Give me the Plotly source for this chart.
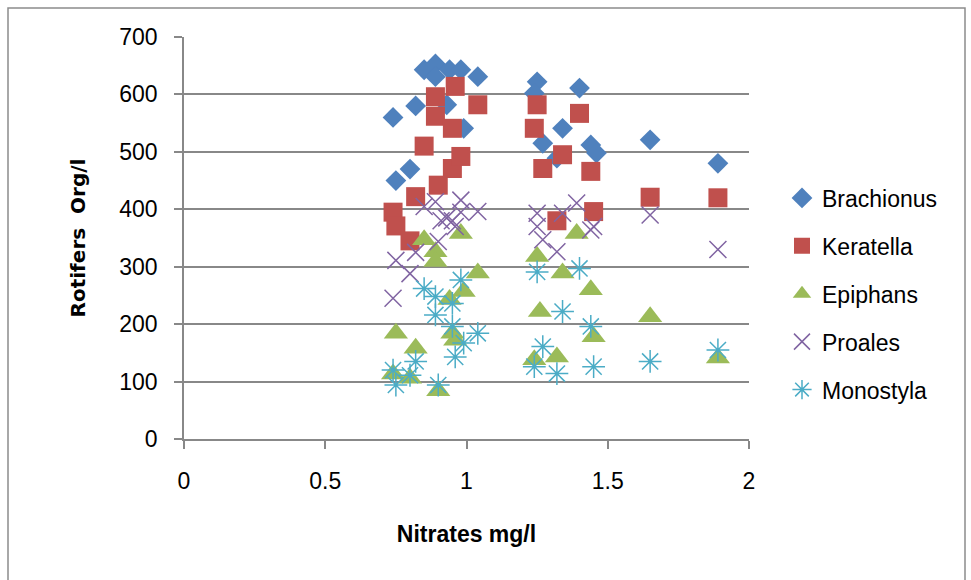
import plotly.graph_objects as go

# ---- data ----
brach_x = [0.74, 0.75, 0.80, 0.82, 0.85, 0.89, 0.89, 0.93, 0.94, 0.98, 0.99, 1.04, 1.25, 1.24, 1.27, 1.32, 1.34, 1.40, 1.44, 1.46, 1.65, 1.89]
brach_y = [560, 450, 470, 580, 643, 653, 631, 582, 643, 643, 541, 631, 622, 602, 515, 489, 541, 611, 512, 498, 521, 480]

kerat_x = [0.74, 0.75, 0.80, 0.82, 0.85, 0.89, 0.89, 0.90, 0.95, 0.96, 0.95, 0.98, 1.04, 1.24, 1.25, 1.27, 1.32, 1.34, 1.40, 1.44, 1.45, 1.65, 1.89]
kerat_y = [395, 371, 345, 422, 510, 596, 562, 442, 541, 614, 471, 492, 582, 541, 582, 471, 380, 495, 567, 466, 396, 421, 420]

epiph_x = [0.75, 0.74, 0.80, 0.82, 0.85, 0.89, 0.89, 0.90, 0.94, 0.95, 0.96, 0.98, 0.99, 1.04, 1.24, 1.25, 1.26, 1.32, 1.34, 1.39, 1.44, 1.45, 1.65, 1.89]
epiph_y = [184, 113, 106, 158, 347, 326, 309, 84, 243, 184, 172, 358, 257, 289, 138, 318, 222, 143, 289, 358, 260, 178, 213, 141]

proal_x = [0.74, 0.75, 0.80, 0.82, 0.85, 0.89, 0.90, 0.91, 0.93, 0.95, 0.96, 0.98, 0.98, 1.04, 1.25, 1.25, 1.27, 1.32, 1.34, 1.39, 1.44, 1.45, 1.65, 1.89]
proal_y = [245, 311, 288, 325, 405, 413, 344, 380, 385, 380, 370, 416, 395, 396, 393, 370, 347, 326, 393, 411, 364, 370, 390, 330]

monos_x = [0.74, 0.75, 0.80, 0.82, 0.85, 0.89, 0.89, 0.90, 0.95, 0.95, 0.96, 0.98, 0.99, 1.04, 1.24, 1.25, 1.27, 1.32, 1.34, 1.40, 1.44, 1.45, 1.65, 1.89]
monos_y = [120, 94, 111, 135, 262, 248, 216, 94, 236, 196, 143, 277, 167, 184, 126, 291, 161, 114, 222, 297, 196, 126, 135, 155]

x_ticks = [0, 0.5, 1, 1.5, 2]
x_tick_labels = ["0", "0.5", "1", "1.5", "2"]
y_ticks = [0, 100, 200, 300, 400, 500, 600, 700]

series = [
    ("Brachionus", brach_x, brach_y, "diamond", "#4F81BD", 16, 0),
    ("Keratella", kerat_x, kerat_y, "square", "#C0504D", 19, 0),
    ("Epiphans", epiph_x, epiph_y, "triangle-up", "#9BBB59", 21, 0),
    ("Proales", proal_x, proal_y, "x-thin-open", "#8064A2", 17, 1.5),
    ("Monostyla", monos_x, monos_y, "asterisk-open", "#4BACC6", 19, 1.5),
]

FONT = "Liberation Sans"
fig = go.Figure()
for name, xs, ys, sym, col, sz, lw in series:
    fig.add_trace(go.Scatter(
        x=xs, y=ys, mode="markers", name=name, legendgroup=name,
        marker=dict(symbol=sym, color=col, size=sz,
                    line=dict(color=col, width=lw)),
    ))

# plot area pixel geometry
L, R, T, B = 184, 749, 37, 439
W, H = 971, 580
def px(xp):
    return (xp - L) / (R - L)
def py(yp):
    return (B - yp) / (B - T)

fig.update_layout(
    width=W, height=H,
    margin=dict(l=L, r=W - R, t=T, b=H - B),
    paper_bgcolor="white", plot_bgcolor="white",
    font=dict(family=FONT, size=23, color="black"),
    showlegend=True,
    legend=dict(x=px(782), y=py(294), xanchor="left", yanchor="middle",
                traceorder="grouped", tracegroupgap=15,
                font=dict(family=FONT, size=23, color="black"),
                bgcolor="rgba(0,0,0,0)"),
    xaxis=dict(range=[0, 2], tickvals=x_ticks, ticktext=x_tick_labels,
               showgrid=False, zeroline=False, showline=True,
               linecolor="#888888", linewidth=1.5,
               ticks="outside", ticklen=8, tickcolor="#888888", tickwidth=1.5,
               ticklabelstandoff=13,
               title=dict(text="<b>Nitrates mg/l</b>", standoff=33,
                          font=dict(family=FONT, size=23, color="black"))),
    yaxis=dict(range=[0, 700], tickvals=y_ticks,
               showgrid=True, gridcolor="#888888", gridwidth=1.5,
               zeroline=False, showline=True,
               linecolor="#888888", linewidth=1.5,
               ticks="outside", ticklen=8, tickcolor="#888888", tickwidth=1.5,
               ticklabelstandoff=12,
               title=dict(text="<b>Rotifers  Org/l</b>", standoff=28,
                          font=dict(family="DejaVu Sans", size=20, color="black"))),
    shapes=[dict(type="rect", xref="paper", yref="paper",
                 x0=px(8), x1=px(965), y0=py(600), y1=py(8),
                 line=dict(color="#8c8c8c", width=1.5), layer="below")],
)

fig.write_html("out.html")
